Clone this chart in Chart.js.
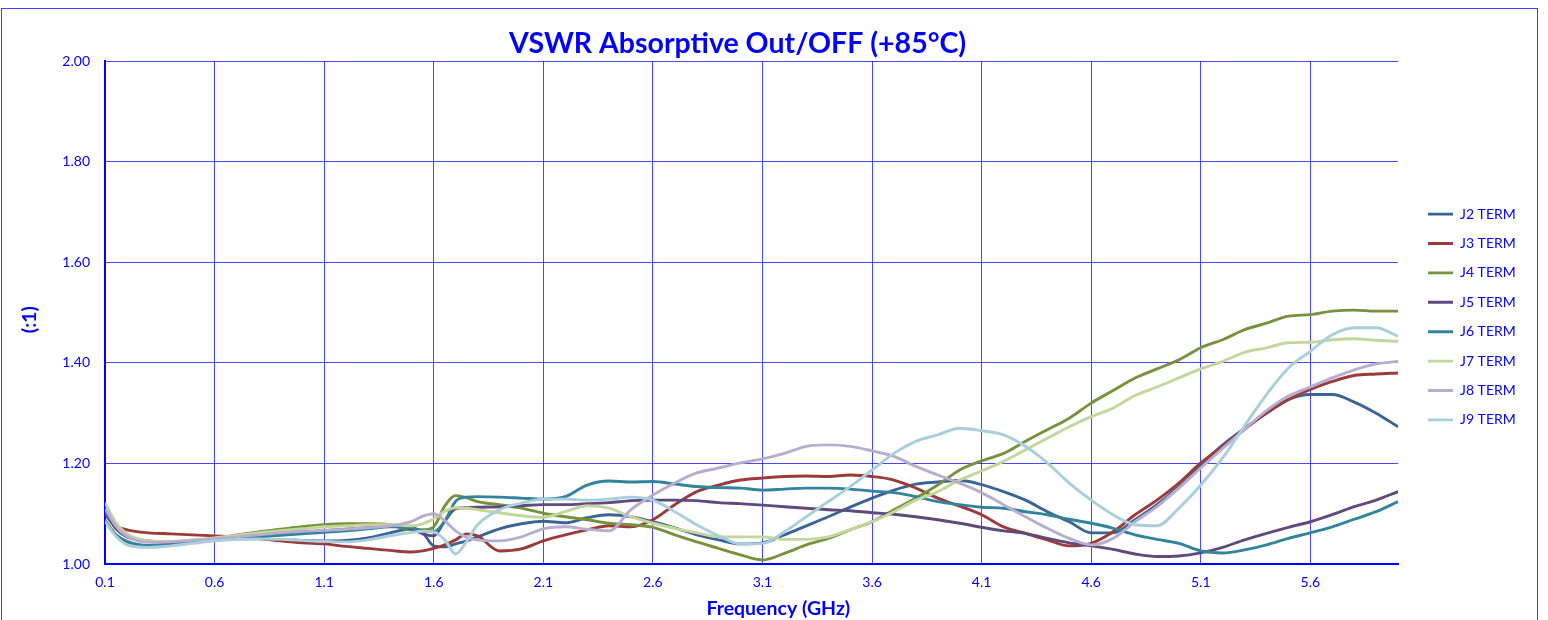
<!doctype html>
<html>
<head>
<meta charset="utf-8">
<title>VSWR Absorptive Out/OFF (+85°C)</title>
<script src="https://cdn.jsdelivr.net/npm/chart.js@4.4.1/dist/chart.umd.min.js"></script>
<style>
  html, body { margin: 0; padding: 0; background: #fff; overflow: hidden; }
  #canvas-holder { position: relative; width: 1548px; height: 620px; }
</style>
</head>
<body>
<div id="canvas-holder"><canvas id="chart-area"></canvas></div>
<script>
  // frequency points (GHz)
  var freq = [0.1, 0.15, 0.2, 0.3, 0.4, 0.5, 0.6, 0.7, 0.8, 0.9,
    1.0, 1.1, 1.2, 1.3, 1.4, 1.5, 1.55, 1.6, 1.65, 1.7, 1.75, 1.8,
    1.9, 2.0, 2.1, 2.2, 2.3, 2.4, 2.5, 2.6, 2.7, 2.8, 2.9, 3.0,
    3.1, 3.2, 3.3, 3.4, 3.5, 3.6, 3.7, 3.8, 3.9, 4.0,
    4.1, 4.2, 4.3, 4.4, 4.5, 4.6, 4.7, 4.8, 4.9, 5.0,
    5.1, 5.2, 5.3, 5.4, 5.5, 5.6, 5.7, 5.8, 5.9, 6.0];

  var j2 = [1.100, 1.072, 1.056, 1.046, 1.043, 1.045, 1.048, 1.050, 1.050, 1.048,
    1.047, 1.046, 1.047, 1.052, 1.062, 1.070, 1.062, 1.036, 1.034, 1.040, 1.046, 1.054,
    1.070, 1.080, 1.085, 1.082, 1.092, 1.098, 1.094, 1.084, 1.072, 1.058, 1.048, 1.040,
    1.042, 1.058, 1.076, 1.094, 1.113, 1.131, 1.147, 1.159, 1.163, 1.166,
    1.158, 1.144, 1.127, 1.104, 1.084, 1.062, 1.062, 1.088, 1.118, 1.154,
    1.197, 1.237, 1.270, 1.300, 1.327, 1.337, 1.337, 1.322, 1.300, 1.273];

  var j3 = [1.104, 1.076, 1.068, 1.062, 1.060, 1.058, 1.056, 1.054, 1.051, 1.046,
    1.042, 1.040, 1.035, 1.031, 1.027, 1.024, 1.026, 1.031, 1.038, 1.048, 1.060, 1.056,
    1.026, 1.030, 1.046, 1.058, 1.068, 1.076, 1.074, 1.088, 1.118, 1.144, 1.157, 1.167,
    1.171, 1.174, 1.175, 1.174, 1.177, 1.174, 1.167, 1.151, 1.131, 1.115,
    1.098, 1.074, 1.061, 1.048, 1.036, 1.041, 1.064, 1.098, 1.127, 1.161,
    1.201, 1.234, 1.268, 1.300, 1.327, 1.347, 1.363, 1.375, 1.378, 1.380];

  var j4 = [1.088, 1.058, 1.044, 1.036, 1.040, 1.046, 1.051, 1.058, 1.064, 1.069,
    1.074, 1.078, 1.080, 1.080, 1.078, 1.068, 1.068, 1.074, 1.115, 1.136, 1.132, 1.124,
    1.118, 1.111, 1.101, 1.094, 1.088, 1.081, 1.078, 1.073, 1.058, 1.044, 1.031, 1.018,
    1.008, 1.021, 1.038, 1.051, 1.068, 1.084, 1.108, 1.131, 1.157, 1.187,
    1.205, 1.220, 1.244, 1.267, 1.290, 1.320, 1.345, 1.370, 1.388, 1.406,
    1.430, 1.446, 1.466, 1.479, 1.493, 1.496, 1.503, 1.505, 1.503, 1.503];

  var j5 = [1.105, 1.070, 1.054, 1.045, 1.043, 1.045, 1.048, 1.052, 1.056, 1.060,
    1.063, 1.066, 1.069, 1.072, 1.075, 1.070, 1.060, 1.056, 1.085, 1.110, 1.112, 1.113,
    1.114, 1.116, 1.118, 1.118, 1.120, 1.122, 1.126, 1.127, 1.127, 1.126, 1.122, 1.120,
    1.117, 1.114, 1.111, 1.108, 1.106, 1.102, 1.099, 1.094, 1.088, 1.081,
    1.073, 1.066, 1.061, 1.051, 1.042, 1.036, 1.029, 1.020, 1.015, 1.016,
    1.022, 1.033, 1.048, 1.061, 1.073, 1.084, 1.098, 1.114, 1.127, 1.144];

  var j6 = [1.085, 1.058, 1.045, 1.037, 1.038, 1.043, 1.047, 1.051, 1.054, 1.057,
    1.060, 1.063, 1.066, 1.070, 1.074, 1.072, 1.066, 1.064, 1.085, 1.125, 1.133, 1.134,
    1.133, 1.131, 1.129, 1.134, 1.157, 1.165, 1.163, 1.164, 1.159, 1.154, 1.152, 1.151,
    1.147, 1.149, 1.151, 1.151, 1.149, 1.145, 1.142, 1.134, 1.124, 1.118,
    1.113, 1.111, 1.104, 1.098, 1.089, 1.081, 1.071, 1.058, 1.049, 1.041,
    1.026, 1.022, 1.028, 1.038, 1.051, 1.062, 1.074, 1.089, 1.104, 1.124];

  var j7 = [1.122, 1.082, 1.060, 1.046, 1.045, 1.048, 1.052, 1.057, 1.062, 1.066,
    1.070, 1.074, 1.076, 1.078, 1.078, 1.076, 1.080, 1.090, 1.105, 1.112, 1.111, 1.108,
    1.102, 1.096, 1.093, 1.104, 1.116, 1.111, 1.094, 1.081, 1.071, 1.062, 1.054, 1.054,
    1.054, 1.049, 1.049, 1.054, 1.068, 1.084, 1.104, 1.127, 1.144, 1.167,
    1.185, 1.204, 1.227, 1.250, 1.273, 1.293, 1.310, 1.335, 1.352, 1.370,
    1.388, 1.403, 1.421, 1.430, 1.440, 1.441, 1.446, 1.448, 1.445, 1.443];

  var j8 = [1.110, 1.075, 1.055, 1.043, 1.044, 1.047, 1.050, 1.054, 1.058, 1.062,
    1.065, 1.067, 1.069, 1.072, 1.076, 1.085, 1.095, 1.100, 1.086, 1.066, 1.053, 1.048,
    1.046, 1.054, 1.070, 1.074, 1.069, 1.066, 1.108, 1.137, 1.161, 1.181, 1.191, 1.201,
    1.209, 1.220, 1.234, 1.237, 1.234, 1.225, 1.214, 1.194, 1.177, 1.161,
    1.142, 1.118, 1.094, 1.071, 1.051, 1.038, 1.051, 1.084, 1.114, 1.151,
    1.191, 1.230, 1.268, 1.305, 1.334, 1.352, 1.370, 1.386, 1.398, 1.403];

  var j9 = [1.085, 1.055, 1.038, 1.033, 1.036, 1.041, 1.046, 1.049, 1.050, 1.049,
    1.047, 1.045, 1.044, 1.048, 1.056, 1.063, 1.065, 1.064, 1.048, 1.020, 1.045, 1.078,
    1.108, 1.121, 1.129, 1.129, 1.127, 1.129, 1.133, 1.127, 1.104, 1.078, 1.056, 1.040,
    1.041, 1.064, 1.094, 1.124, 1.154, 1.187, 1.220, 1.244, 1.257, 1.270,
    1.265, 1.257, 1.234, 1.201, 1.161, 1.127, 1.098, 1.078, 1.076, 1.111,
    1.157, 1.211, 1.275, 1.337, 1.390, 1.423, 1.456, 1.470, 1.470, 1.453];

  var seriesNames = ['J2 TERM', 'J3 TERM', 'J4 TERM', 'J5 TERM', 'J6 TERM', 'J7 TERM', 'J8 TERM', 'J9 TERM'];
  var seriesValues = [j2, j3, j4, j5, j6, j7, j8, j9];
  var seriesColors = ['#3b6496', '#9b3b39', '#77923d', '#5f4a7e', '#31849b', '#c3d69b', '#b8adcf', '#a9cfdd'];

  var xTicks = [0.1, 0.6, 1.1, 1.6, 2.1, 2.6, 3.1, 3.6, 4.1, 4.6, 5.1, 5.6];
  var yTicks = [1.0, 1.2, 1.4, 1.6, 1.8, 2.0];

  var blue = '#0000ff';
  var gridBlue = 'rgba(0,0,255,0.72)';
  var fontFamily = 'Lato, "Open Sans", sans-serif';
  var legendFontSize = 14;
  var legendPad = 15.4;
  var legendLine = 25;

  // plot area should end at x=1398 and legend lines start at x=1428
  function legendPaddingRight() {
    var c = document.createElement('canvas').getContext('2d');
    c.font = 'normal ' + legendFontSize + 'px ' + fontFamily;
    var w = 0;
    seriesNames.forEach(function(n) { w = Math.max(w, c.measureText(n).width); });
    var legendW = legendPad + legendLine + legendFontSize / 2 + w + 10;
    return Math.max(0, 1548 - (1428 - legendPad) - legendW);
  }

  var datasets = seriesNames.map(function(name, i) {
    return {
      label: name,
      data: freq.map(function(f, k) { return {x: f, y: seriesValues[i][k]}; }),
      borderColor: seriesColors[i],
      backgroundColor: seriesColors[i],
      borderWidth: 2.9,
      pointRadius: 0,
      cubicInterpolationMode: 'monotone',
      fill: false,
      order: seriesNames.length - i
    };
  });

  // outer chart frame
  var framePlugin = {
    id: 'frame',
    beforeDraw: function(chart) {
      var ctx = chart.ctx;
      ctx.save();
      ctx.fillStyle = '#ffffff';
      ctx.fillRect(0, 0, chart.width, chart.height);
      ctx.strokeStyle = 'rgba(0,0,255,0.75)';
      ctx.lineWidth = 1;
      ctx.strokeRect(1.5, 8.5, 1536, 700);
      ctx.restore();
    }
  };

  var config = {
    type: 'line',
    data: { datasets: datasets },
    options: {
      responsive: true,
      maintainAspectRatio: false,
      animation: false,
      layout: { padding: { top: 14, right: 35, bottom: 0, left: 0 } },
      plugins: {
        title: {
          display: true,
          text: 'VSWR Absorptive Out/OFF (+85°C)    ',
          color: blue,
          fullSize: false,
          font: { family: fontFamily, size: 28.5, weight: 'bold' },
          padding: { top: 13, bottom: 0 }
        },
        legend: {
          position: 'right',
          labels: {
            usePointStyle: true,
            pointStyle: 'line',
            pointStyleWidth: legendLine,
            color: blue,
            padding: legendPad,
            font: { family: fontFamily, size: legendFontSize },
            sort: function(a, b) { return a.datasetIndex - b.datasetIndex; }
          }
        },
        tooltip: { enabled: false }
      },
      scales: {
        x: {
          type: 'linear',
          min: 0.1,
          max: 6.0,
          afterBuildTicks: function(scale) {
            scale.ticks = xTicks.map(function(v) { return {value: v}; });
          },
          afterFit: function(scale) { scale.height = 56; },
          grid: { color: gridBlue, lineWidth: 1, drawTicks: false },
          border: { color: blue, width: 2 },
          ticks: {
            color: blue,
            padding: 10,
            maxRotation: 0,
            autoSkip: false,
            font: { family: fontFamily, size: 14 },
            callback: function(v) { return Number(v).toFixed(1); }
          },
          title: {
            display: true,
            text: '\u2003\u2003\u2003\u2002Frequency (GHz)',
            color: blue,
            font: { family: fontFamily, size: 19.5, weight: 'bold' },
            padding: { top: 0, bottom: 0 }
          }
        },
        y: {
          min: 1.0,
          max: 2.0,
          afterBuildTicks: function(scale) {
            scale.ticks = yTicks.map(function(v) { return {value: v}; });
          },
          afterFit: function(scale) { scale.width = 105; },
          grid: { color: gridBlue, lineWidth: 1, drawTicks: false },
          border: { color: blue, width: 2 },
          ticks: {
            color: blue,
            padding: 15,
            font: { family: fontFamily, size: 14 },
            callback: function(v) { return Number(v).toFixed(2); }
          },
          title: {
            display: true,
            text: '(:1)   ',
            color: blue,
            font: { family: fontFamily, size: 19.5, weight: 'bold' },
            padding: { top: 18, bottom: 0 }
          }
        },
        gap: {
          type: 'linear',
          position: 'right',
          grid: { display: false },
          border: { display: false },
          ticks: { display: false },
          afterFit: function(scale) {
            var legendW = scale.chart.legend ? scale.chart.legend.width : 0;
            var pr = scale.chart.options.layout.padding.right;
            scale.width = legendW > 0 ? Math.max(0, 1548 - pr - legendW - 1398) : 14.6;
          }
        }
      }
    },
    plugins: [framePlugin]
  };

  window.onload = function() {
    config.options.layout.padding.right = legendPaddingRight();
    var ctx = document.getElementById('chart-area').getContext('2d');
    window.vswrChart = new Chart(ctx, config);
  };
</script>
</body>
</html>
